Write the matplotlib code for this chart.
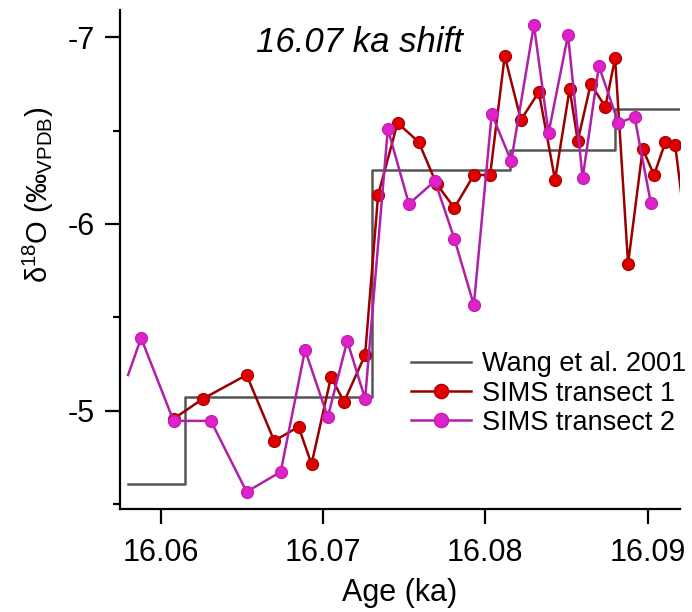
import numpy as np
import matplotlib
matplotlib.use('Agg')
import matplotlib.pyplot as plt

plt.rcParams['font.family'] = ['Liberation Sans', 'DejaVu Sans']
plt.rcParams['mathtext.fontset'] = 'custom'
plt.rcParams['mathtext.rm'] = 'Liberation Sans'
plt.rcParams['mathtext.it'] = 'Liberation Sans:italic'

# Wang et al. 2001 (step record)
wang_age = [16.0580, 16.0615, 16.0730, 16.0815, 16.0880, 16.0920]
wang_d18o = [-4.607, -5.073, -6.289, -6.396, -6.616, -6.616]

# SIMS transect 1
t1_age = [16.0608, 16.0626, 16.0653, 16.0670, 16.0685, 16.0693, 16.0705, 16.0713,
          16.0726, 16.0734, 16.0746, 16.0759, 16.0770, 16.0781, 16.0793, 16.0803,
          16.0812, 16.0822, 16.0833, 16.0843, 16.0852, 16.0857, 16.0865, 16.0874,
          16.0880, 16.0888, 16.0897, 16.0904, 16.0911, 16.0917, 16.0921]
t1_d18o = [-4.956, -5.063, -5.191, -4.838, -4.913, -4.714, -5.180, -5.047,
           -5.298, -6.155, -6.541, -6.439, -6.214, -6.086, -6.262, -6.262,
           -6.900, -6.557, -6.707, -6.236, -6.723, -6.445, -6.750, -6.627,
           -6.889, -5.786, -6.402, -6.262, -6.439, -6.423, -6.145]

# SIMS transect 2
t2_age = [16.0580, 16.0588, 16.0608, 16.0631, 16.0653, 16.0674, 16.0689, 16.0703,
          16.0715, 16.0726, 16.0740, 16.0753, 16.0769, 16.0781, 16.0793, 16.0804,
          16.0816, 16.0830, 16.0839, 16.0851, 16.0860, 16.0870, 16.0882, 16.0892,
          16.0902]
t2_d18o = [-5.191, -5.389, -4.945, -4.945, -4.565, -4.672, -5.325, -4.966,
           -5.373, -5.063, -6.509, -6.107, -6.230, -5.920, -5.566, -6.589,
           -6.337, -7.066, -6.487, -7.012, -6.246, -6.846, -6.541, -6.573,
           -6.112]

fig = plt.figure(figsize=(6.92, 6.12), dpi=100)
ax = fig.add_axes([0.1734, 0.1683, 0.8093, 0.8154])

ax.plot(wang_age, wang_d18o, drawstyle='steps-post', color='#555555', lw=1.8,
        label='Wang et al. 2001', zorder=2)
ax.plot(t1_age, t1_d18o, '-o', color='#9a0000', lw=1.8, ms=8.5,
        mfc='#e00000', mec='#b00000', markevery=list(range(len(t1_age) - 1)),
        label='SIMS transect 1', zorder=3)
ax.plot(t2_age, t2_d18o, '-o', color='#b020a8', lw=1.8, ms=8.5,
        mfc='#e020c8', mec='#c020b0', markevery=list(range(1, len(t2_age))),
        label='SIMS transect 2', zorder=4)

ax.set_xlim(16.0575, 16.0920)
ax.set_ylim(-4.473, -7.146)
ax.set_xticks([16.06, 16.07, 16.08, 16.09])
ax.set_xticklabels(['16.06', '16.07', '16.08', '16.09'])
ax.set_yticks([-7, -6, -5])
ax.set_yticklabels(['-7', '-6', '-5'])
ax.set_yticks([-6.5, -5.5, -4.5], minor=True)

for s in ['top', 'right']:
    ax.spines[s].set_visible(False)
for s in ['left', 'bottom']:
    ax.spines[s].set_linewidth(1.6)
ax.tick_params(which='major', length=11, width=1.6, labelsize=22)
ax.tick_params(axis='x', which='major', pad=10)
ax.tick_params(axis='y', which='major', pad=7)
ax.tick_params(which='minor', length=5, width=1.6)

ax.set_xlabel('Age (ka)', fontsize=22, labelpad=7)
ax.set_ylabel('δ$^{18}$O (‰$_{\\mathrm{VPDB}}$)', fontsize=21)
ax.yaxis.set_label_coords(-0.115, 0.63)

ax.text(0.428, 0.935, '16.07 ka shift', transform=ax.transAxes, fontsize=25,
        style='italic', ha='center', va='center')

ax.legend(loc='lower right', bbox_to_anchor=(1.03, 0.125), frameon=False,
          fontsize=19.5, handlelength=2.2, handletextpad=0.4, labelspacing=0.12,
          borderaxespad=0, markerscale=1.2)

fig.savefig('out.png', dpi=100)
